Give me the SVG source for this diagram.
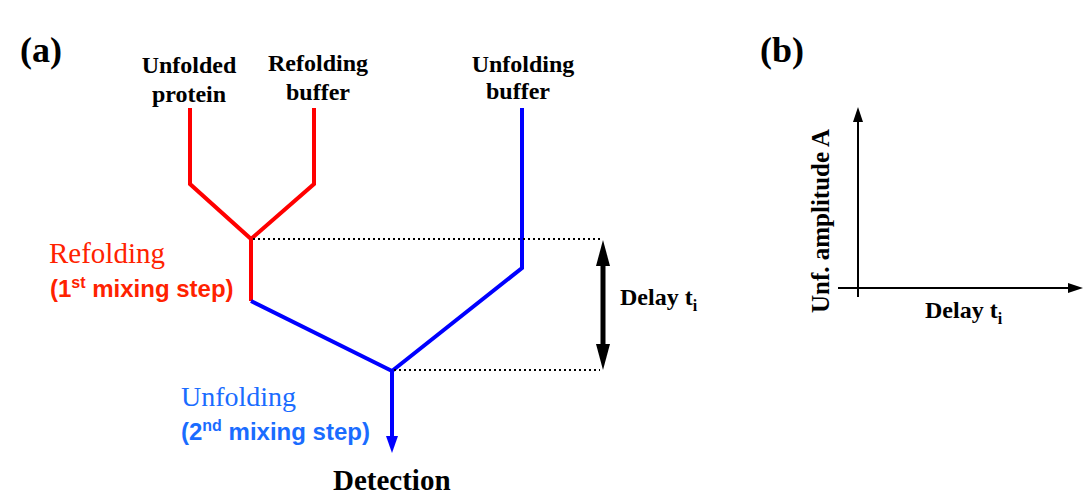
<svg xmlns="http://www.w3.org/2000/svg" width="1084" height="504" viewBox="0 0 1084 504">
<style>
.lbl{font-family:"Liberation Serif",serif;font-weight:bold;fill:#000}
.red{stroke:#ff0000;stroke-width:4;fill:none}
.blue{stroke:#0000ff;stroke-width:4;fill:none}
.dot{stroke:#000;stroke-width:2;stroke-dasharray:2 3;fill:none}
.ax{stroke:#000;stroke-width:2;fill:none}
.sans{font-family:"Liberation Sans",sans-serif;font-weight:bold}
</style>
<g id="panel-a-label"><text class="lbl" x="20" y="62" font-size="36">(a)</text></g>
<g id="unfolded-protein"><text class="lbl" x="189" y="73" font-size="24" text-anchor="middle">Unfolded</text><text class="lbl" x="189" y="102" font-size="24" text-anchor="middle">protein</text></g>
<g id="refolding-buffer"><text class="lbl" x="318" y="71" font-size="24" text-anchor="middle">Refolding</text><text class="lbl" x="318" y="100" font-size="24" text-anchor="middle">buffer</text></g>
<g id="unfolding-buffer"><text class="lbl" x="523" y="72" font-size="24" text-anchor="middle">Unfolding</text><text class="lbl" x="518" y="99" font-size="24" text-anchor="middle">buffer</text></g>
<g id="refolding-step"><text x="49" y="263" font-size="29" font-family="Liberation Serif,serif" fill="#ff2200">Refolding</text><text class="sans" x="50" y="297" font-size="24" fill="#ff2200">(1<tspan font-size="16" dy="-9">st</tspan><tspan dy="9"> mixing step)</tspan></text></g>
<g id="unfolding-step"><text x="181" y="406" font-size="28" font-family="Liberation Serif,serif" fill="#1a6cff">Unfolding</text><text class="sans" x="181" y="440" font-size="24" fill="#1a6cff">(2<tspan font-size="16" dy="-9">nd</tspan><tspan dy="9"> mixing step)</tspan></text></g>
<g id="detection"><text class="lbl" x="333" y="490" font-size="29">Detection</text></g>
<g id="delay"><text class="lbl" x="620" y="305" font-size="24">Delay t<tspan font-size="16" dy="6">i</tspan></text></g>
<g id="connectors">
<polyline class="red" points="190,108 190,184 251,239 251,301"/>
<polyline class="red" points="314,108 314,184 251,239"/>
<polyline class="blue" points="251,301 392,371"/>
<polyline class="blue" points="522,108 522,268 392,371"/>
<line class="blue" x1="392" y1="371" x2="392" y2="438"/>
<path d="M386,436L398,436L392,453z" fill="#0000ff"/>
<line class="dot" x1="253" y1="239" x2="600" y2="239"/>
<line class="dot" x1="394" y1="370" x2="600" y2="370"/>
<line x1="603" y1="265" x2="603" y2="345" stroke="#000" stroke-width="5"/>
<path d="M603,240L610,266L596,266z" fill="#000"/>
<path d="M603,370L610,344L596,344z" fill="#000"/>
</g>
<g id="panel-b">
<text class="lbl" x="760" y="62" font-size="36">(b)</text>
<line class="ax" x1="858" y1="297" x2="858" y2="122"/>
<path d="M858,107L853,122L863,122z" fill="#000"/>
<line class="ax" x1="838" y1="288" x2="1068" y2="288"/>
<path d="M1083,288L1068,283L1068,293z" fill="#000"/>
<text class="lbl" x="0" y="0" font-size="25" text-anchor="middle" transform="translate(829,221) rotate(-90)">Unf. amplitude A</text>
<text class="lbl" x="925" y="318" font-size="24">Delay t<tspan font-size="16" dy="6">i</tspan></text>
</g>
</svg>
